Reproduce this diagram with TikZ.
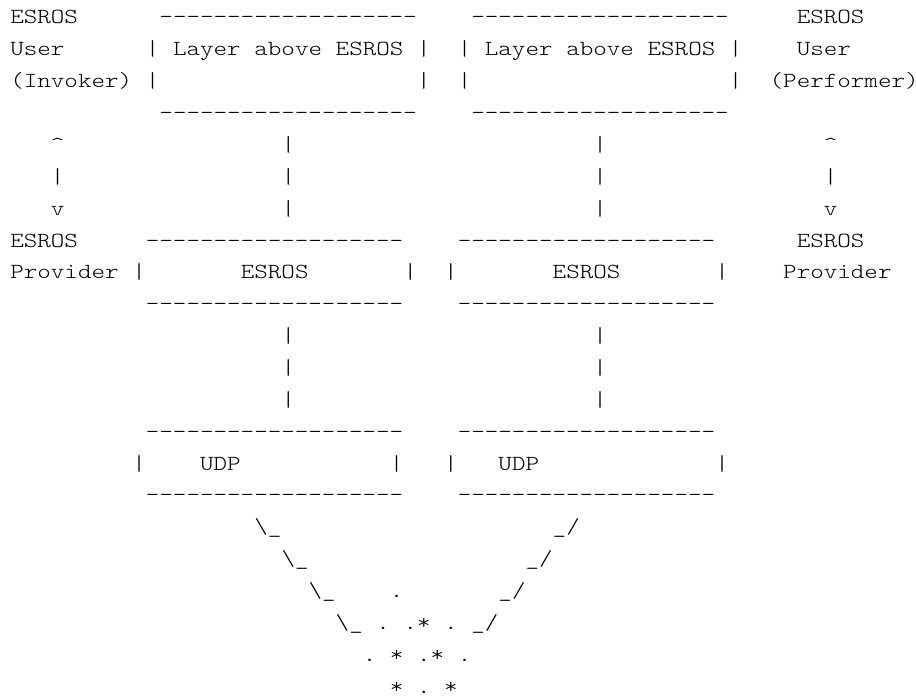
\documentclass[tikz,border=0pt]{standalone}
\usepackage{fontspec}
\setmonofont{Latin Modern Mono Light}[FakeStretch=1.2]
\newcommand\bs{\textbackslash}
\newcommand\dashrow{-------------------}

\tikzset{
  ascii/.style={anchor=base west, inner sep=0pt, outer sep=0pt,
    font=\ttfamily\fontsize{21.5pt}{31.86pt}\selectfont},
}

\begin{document}
\begin{tikzpicture}[x=13.56pt, y=-31.86pt]
  \useasboundingbox (-10.3pt,24pt) rectangle ++(916pt,-696pt);
  % layer above ESROS
  \node[ascii] (esros-top-l) at (0,0) {ESROS};
  \node[ascii] (esros-top-r) at (58,0) {ESROS};
  \node[ascii] (user-l) at (0,1) {User};
  \node[ascii] (user-r) at (58,1) {User};
  \node[ascii] (invoker) at (0,2) {(Invoker)};
  \node[ascii] (performer) at (56,2) {(Performer)};
  \foreach \c/\s in {12/l,35/r} {
    \node[ascii] (layer-\s) at (\c,1) {Layer};
    \node[ascii] (above-\s) at (\c+6,1) {above};
    \node[ascii] (esros-up-\s) at (\c+12,1) {ESROS};
  }
  \foreach \r in {1,2} {
    \foreach \c in {10,30,33,53} {
      \node[ascii] (side-\r-\c) at (\c,\r) {|};
    }
  }
  \foreach \r in {0,3} {
    \node[ascii] (top-\r-l) at (11,\r) {\dashrow};
    \node[ascii] (top-\r-r) at (34,\r) {\dashrow};
  }
  % user/provider arrows and links
  \foreach \c in {3,60} {
    \node[ascii] (up-\c) at (\c,4) {\textasciicircum};
    \node[ascii] (mid-\c) at (\c,5) {|};
    \node[ascii] (dn-\c) at (\c,6) {v};
  }
  \foreach \r in {4,5,6,10,11,12} {
    \node[ascii] (link-\r-l) at (20,\r) {|};
    \node[ascii] (link-\r-r) at (43,\r) {|};
  }
  % ESROS and UDP boxes
  \node[ascii] (esros-l) at (0,7) {ESROS};
  \node[ascii] (esros-r) at (58,7) {ESROS};
  \node[ascii] (provider-l) at (0,8) {Provider};
  \node[ascii] (provider-r) at (57,8) {Provider};
  \node[ascii] (esros-box-l) at (17,8) {ESROS};
  \node[ascii] (esros-box-r) at (40,8) {ESROS};
  \node[ascii] (udp-l) at (14,14) {UDP};
  \node[ascii] (udp-r) at (36,14) {UDP};
  \foreach \r in {7,9,13,15} {
    \node[ascii] (rule-\r-l) at (10,\r) {\dashrow};
    \node[ascii] (rule-\r-r) at (33,\r) {\dashrow};
  }
  \foreach \c in {9,29,32,52} {
    \node[ascii] (side-8-\c) at (\c,8) {|};
  }
  \foreach \c in {9,28,32,52} {
    \node[ascii] (side-14-\c) at (\c,14) {|};
  }
  % funnel into the network
  \foreach \r/\c in {16/18,17/20,18/22,19/24} {
    \node[ascii] (fun-\r-l) at (\c,\r) {\bs\_};
  }
  \foreach \r/\c in {16/40,17/38,18/36,19/34} {
    \node[ascii] (fun-\r-r) at (\c,\r) {\_/};
  }
  \foreach \r/\c/\ch in {18/28/., 19/27/., 19/29/., 19/30/*, 19/32/.,
      20/26/., 20/28/*, 20/30/., 20/31/*, 20/33/.,
      21/28/*, 21/30/., 21/32/*} {
    \node[ascii] (net-\r-\c) at (\c,\r) {\ch};
  }
\end{tikzpicture}
\end{document}
